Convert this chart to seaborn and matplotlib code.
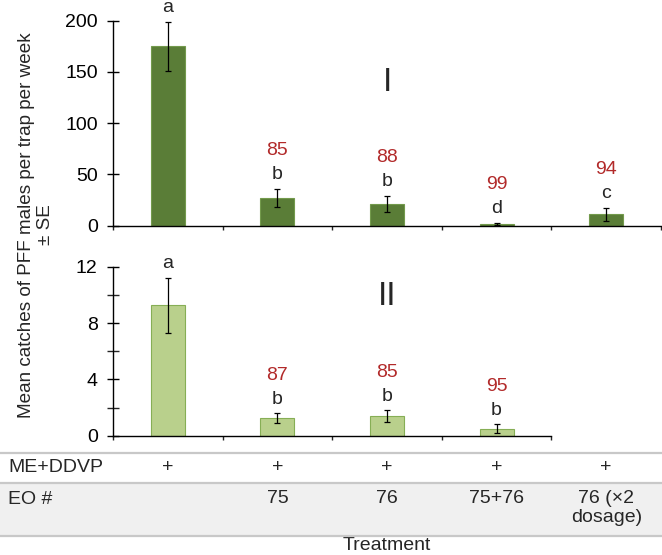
import numpy as np
import pandas as pd
import seaborn as sns
import matplotlib.pyplot as plt
from matplotlib.lines import Line2D
from matplotlib.patches import Rectangle
from matplotlib.transforms import blended_transform_factory

# treatments (x categories)
treatments = ['ME+DDVP', 'ME+DDVP+EO75', 'ME+DDVP+EO76', 'ME+DDVP+EO75+76', 'ME+DDVP+EO76x2']

# panel I
mean_1 = [175, 27, 21, 2, 11]
se_1 = [24, 9, 8, 1, 6.5]
letters_1 = ['a', 'b', 'b', 'd', 'c']
reduction_1 = ['', '85', '88', '99', '94']

# panel II (no x2 dosage treatment)
mean_2 = [9.25, 1.25, 1.4, 0.5]
se_2 = [1.95, 0.33, 0.4, 0.33]
letters_2 = ['a', 'b', 'b', 'b']
reduction_2 = ['', '87', '85', '95']

# table under the plot
row_me = ['+', '+', '+', '+', '+']
row_eo = ['', '75', '76', '75+76', '76 (×2\ndosage)']

sns.set_theme(style='ticks')
plt.rcParams['font.family'] = ['Liberation Sans', 'DejaVu Sans']
FS = 14

RED = '#b22a2a'
W, H = 662, 555
fig = plt.figure(figsize=(W / 100, H / 100), dpi=100)

ax1 = fig.add_axes([113 / W, 1 - 225.7 / H, 548 / W, 205 / H])
ax2 = fig.add_axes([113 / W, 1 - 435.7 / H, 548 / W, 169 / H])

df1 = pd.DataFrame({'treat': treatments, 'mean': mean_1})
df2 = pd.DataFrame({'treat': treatments[:4], 'mean': mean_2})

sns.barplot(data=df1, x='treat', y='mean', order=treatments, color='#5a7d37',
            edgecolor='#739a4c', linewidth=0.8, width=0.31, saturation=1,
            errorbar=None, ax=ax1)
sns.barplot(data=df2, x='treat', y='mean', order=treatments, color='#b9d08c',
            edgecolor='#86ae55', linewidth=0.8, width=0.31, saturation=1,
            errorbar=None, ax=ax2)

panels = [(ax1, mean_1, se_1, letters_1, reduction_1, 200, 50, 'I', 140),
          (ax2, mean_2, se_2, letters_2, reduction_2, 12, 4, 'II', 9.85)]

for ax, m, s, let, red, ymax, step, roman, ry in panels:
    xs = np.arange(len(m))
    ax.errorbar(xs, m, yerr=s, fmt='none', ecolor='black', elinewidth=0.9,
                capsize=2.5, capthick=0.9)
    for x, mv, sv, l, r in zip(xs, m, s, let, red):
        ax.annotate(l, xy=(x, mv + sv), xytext=(0, 14), textcoords='offset pixels',
                    ha='center', va='center', fontsize=FS, annotation_clip=False)
        if r:
            ax.annotate(r, xy=(x, mv + sv), xytext=(0, 38), textcoords='offset pixels',
                        ha='center', va='center', fontsize=FS, color=RED,
                        annotation_clip=False)
    ax.text(2.0, ry, roman, ha='center', va='center', fontsize=24)
    ax.set_xlim(-0.5, 4.5)
    ax.set_ylim(0, ymax)
    ax.set_yticks(np.arange(0, ymax + 1, step))
    ax.set_xticks(np.arange(-0.5, len(m), 1.0))
    ax.set_xticklabels([])
    ax.set_xlabel('')
    ax.set_ylabel('')
    sns.despine(ax=ax)
    for sp in ['left', 'bottom']:
        ax.spines[sp].set_linewidth(1.0)
        ax.spines[sp].set_color('black')
    ax.tick_params(axis='y', direction='inout', length=8, width=1.0, pad=7,
                   labelsize=FS, colors='black')
    ax.tick_params(axis='x', direction='out', length=3, width=1.0)
    ax.patch.set_visible(False)

ax2.set_yticks([2, 6, 10], minor=True)
ax2.tick_params(axis='y', which='minor', direction='inout', length=8, width=1.0)
ax2.spines['bottom'].set_bounds(-0.5, 3.5)

fig.text(36 / W, 1 - 225 / H, 'Mean catches of PFF males per trap per week\n± SE',
         rotation=90, ha='center', va='center', multialignment='center',
         fontsize=13.6, linespacing=1.1)

# table
fig.add_artist(Rectangle((0, 1 - 536 / H), 1, 53 / H, transform=fig.transFigure,
                         facecolor='#f0f0f0', edgecolor='none', zorder=0))
for yy in [453, 483, 536]:
    fig.add_artist(Line2D([0, 1], [1 - yy / H] * 2, transform=fig.transFigure,
                          color='#c8c8c8', linewidth=1.6))

tr = blended_transform_factory(ax1.transData, fig.transFigure)
fig.text(8 / W, 1 - 468 / H, 'ME+DDVP', ha='left', va='center', fontsize=FS)
fig.text(8 / W, 1 - 499 / H, 'EO #', ha='left', va='center', fontsize=FS)
for i, (a, b) in enumerate(zip(row_me, row_eo)):
    ax1.text(i, 1 - 468 / H, a, transform=tr, ha='center', va='center', fontsize=FS)
    if b:
        ax1.text(i, 1 - 490 / H, b, transform=tr, ha='center', va='top',
                 fontsize=FS, linespacing=1.15)
ax1.text(2.0, 1 - 546 / H, 'Treatment', transform=tr, ha='center', va='center',
         fontsize=FS)

fig.savefig('out.png', dpi=100)
